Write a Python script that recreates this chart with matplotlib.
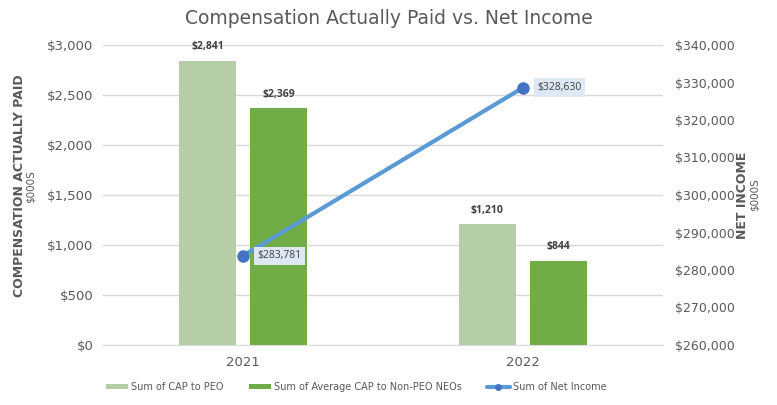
import matplotlib.pyplot as plt
import numpy as np

years = ['2021', '2022']
cap_peo = [2841, 1210]
cap_non_peo = [2369, 844]
net_income = [283781, 328630]

left_ticks = [0, 500, 1000, 1500, 2000, 2500, 3000]
right_ticks = [260000, 270000, 280000, 290000, 300000, 310000, 320000, 330000, 340000]

gray = '#595959'
light_green = '#b5cea8'
dark_green = '#70ad47'
line_blue = '#5b9bd5'
dot_blue = '#4472c4'

fig = plt.figure(figsize=(7.77, 4.05), dpi=100)
ax = fig.add_axes([103 / 777, 60 / 405, 560 / 777, 300 / 405])
ax2 = ax.twinx()

x = np.arange(len(years))
w = 0.204
off = 0.127
b1 = ax.bar(x - off, cap_peo, w, color=light_green, label='Sum of CAP to PEO', zorder=2)
b2 = ax.bar(x + off, cap_non_peo, w, color=dark_green, label='Sum of Average CAP to Non-PEO NEOs', zorder=2)

for bars, vals in [(b1, cap_peo), (b2, cap_non_peo)]:
    for r, v in zip(bars, vals):
        ax.text(r.get_x() + r.get_width() / 2, v + 85, f'${v:,}', ha='center', va='bottom',
                fontsize=7.5, fontweight='bold', color='#404040', family='Open Sans')

ax.set_xlim(-0.5, 1.5)
ax.set_ylim(0, 3000)
ax.set_yticks(left_ticks)
ax.set_yticklabels([f'${t:,}' for t in left_ticks])
ax.set_xticks(x)
ax.set_xticklabels(years)
ax.yaxis.grid(True, color='#d9d9d9', linewidth=1, zorder=0)
ax.set_axisbelow(True)
for s in ax.spines.values():
    s.set_visible(False)
ax.spines['bottom'].set_visible(True)
ax.spines['bottom'].set_color('#d9d9d9')
ax.tick_params(axis='x', length=0, labelsize=9.5, labelcolor=gray, pad=8)
ax.tick_params(axis='y', length=0, labelsize=9.5, labelcolor=gray, pad=7)

ln, = ax2.plot(x, net_income, color=line_blue, linewidth=3, marker='o', markersize=8,
               markerfacecolor=dot_blue, markeredgecolor=dot_blue, label='Sum of Net Income',
               solid_capstyle='round', zorder=3)
for xi, v in zip(x, net_income):
    ax2.annotate(f'${v:,}', (xi, v), xytext=(10.5, 0), textcoords='offset points',
                 ha='left', va='center', fontsize=7.5, color='#404040', family='Open Sans',
                 bbox=dict(boxstyle='square,pad=0.35', fc='#dde8f4', ec='none'))
ax2.set_ylim(260000, 340000)
ax2.set_yticks(right_ticks)
ax2.set_yticklabels([f'${t:,}' for t in right_ticks])
for s in ax2.spines.values():
    s.set_visible(False)
ax2.tick_params(axis='y', length=0, labelsize=9, labelcolor=gray, pad=8.5)

fig.text(0.5, 1 - 18 / 405, 'Compensation Actually Paid vs. Net Income', ha='center', va='center',
         fontsize=13.5, color=gray)

fig.text(20 / 777, 1 - 186 / 405, 'COMPENSATION ACTUALLY PAID', rotation=90, ha='center', va='center',
         fontsize=9, fontweight='bold', color=gray)
fig.text(31 / 777, 1 - 187 / 405, '$000S', rotation=90, ha='center', va='center', fontsize=7.5, color=gray)
fig.text(742 / 777, 1 - 195 / 405, 'NET INCOME', rotation=90, ha='center', va='center',
         fontsize=9, fontweight='bold', color=gray)
fig.text(755 / 777, 1 - 195 / 405, '$000S', rotation=90, ha='center', va='center', fontsize=7.5, color=gray)

fig.legend(handles=[b1, b2, ln], loc='center', bbox_to_anchor=(356 / 777, 1 - 387 / 405),
           ncol=3, frameon=False, fontsize=7, labelcolor=gray, handlelength=2.3, handleheight=0.5,
           handletextpad=0.3, columnspacing=2.6, markerscale=0.5)

fig.savefig('out.png', dpi=100)
